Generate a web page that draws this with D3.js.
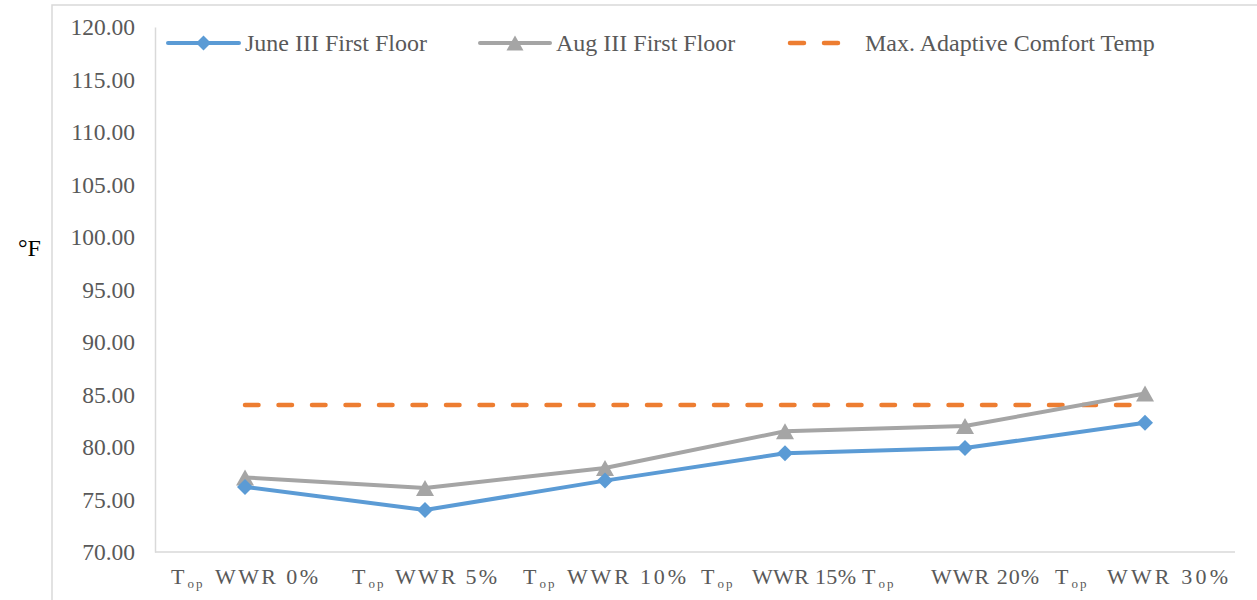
<!DOCTYPE html>
<html>
<head>
<meta charset="utf-8">
<script src="https://cdn.jsdelivr.net/npm/d3@7"></script>
<style>
  html, body { margin: 0; padding: 0; background: #fff; }
  svg { display: block; }
  svg text { font-family: "Liberation Serif", "Times New Roman", serif !important; }
</style>
</head>
<body>
<svg id="chart" width="1257" height="600" font-family="Liberation Serif, serif"></svg>
<script>
// Operative temperature by window-to-wall ratio
const categories = ["0%", "5%", "10%", "15%", "20%", "30%"];
const juneFirstFloor = [76.2, 74.0, 76.8, 79.4, 79.9, 82.3];
const augFirstFloor = [77.1, 76.1, 78.0, 81.5, 82.0, 85.1];
const maxComfort = [84.0, 84.0, 84.0, 84.0, 84.0, 84.0];
const yTicks = [70, 75, 80, 85, 90, 95, 100, 105, 110, 115, 120];

// label layout: offsets from the category centre for "T", "WWR" start and end
const tStart = [-74, -73, -82, -84, -103, -90];
const wwrStart = [-30, -30, -38, -33, -34, -38];
const wwrEnd = [73, 72, 81, 71, 74, 83];

const COL_JUNE = "#5B9BD5", COL_AUG = "#A5A5A5", COL_MAX = "#ED7D31";
const TEXT = "#595959", AXIS = "#D9D9D9";
const SERIF = '"Liberation Serif", "Times New Roman", serif';

const svg = d3.select("#chart");

// outer frame
svg.append("rect")
  .attr("x", 52).attr("y", 5).attr("width", 1300).attr("height", 700)
  .attr("fill", "none").attr("stroke", AXIS).attr("stroke-width", 1.5);

const plotLeft = 155, plotRight = 1235, plotTop = 27, plotBottom = 552;

const x = d3.scalePoint().domain(categories).range([plotLeft, plotRight]).padding(0.5);
const y = d3.scaleLinear().domain([70, 120]).range([plotBottom, plotTop]);

// y axis
const yAxis = svg.append("g").attr("transform", `translate(${plotLeft},0)`)
  .call(d3.axisLeft(y).tickValues(yTicks).tickFormat(d3.format(".2f")).tickSize(0).tickPadding(20));
yAxis.attr("font-family", SERIF).attr("font-size", 23.5);
yAxis.select(".domain").attr("stroke", AXIS).attr("stroke-width", 1.5);
yAxis.selectAll("text").attr("fill", TEXT);

// x axis line
svg.append("line")
  .attr("x1", plotLeft).attr("x2", plotRight).attr("y1", plotBottom).attr("y2", plotBottom)
  .attr("stroke", AXIS).attr("stroke-width", 1.5);

// x category labels: T_op WWR n%
const xl = svg.append("g").attr("fill", TEXT).attr("font-family", SERIF);
categories.forEach((c, i) => {
  const cx = x(c);
  const t = xl.append("text").attr("x", cx + tStart[i]).attr("y", 584).style("font-size", "22px");
  t.append("tspan").text("T");
  t.append("tspan").attr("dx", 3).attr("dy", 4).style("font-size", "13px")
    .attr("letter-spacing", 2).text("op");
  xl.append("text").attr("x", cx + wwrStart[i]).attr("y", 584).style("font-size", "22px")
    .attr("textLength", wwrEnd[i] - wwrStart[i]).attr("lengthAdjust", "spacing")
    .text("WWR " + c);
});

// y axis title
svg.append("text").attr("x", 18).attr("y", 248).attr("dy", "0.35em")
  .attr("fill", "#000").style("font-size", "24px").text("°F");

// marker shapes
const diamond = (s) => `M0,${-s}L${s},0L0,${s}L${-s},0Z`;
const triangle = (w, h) => `M0,${-h / 2}L${w / 2},${h / 2}L${-w / 2},${h / 2}Z`;

const line = d3.line().x((d, i) => x(categories[i])).y(d => y(d));

// max comfort (dashed)
svg.append("path").datum(maxComfort).attr("d", line)
  .attr("fill", "none").attr("stroke", COL_MAX).attr("stroke-width", 4.5)
  .attr("stroke-linecap", "round").attr("stroke-dasharray", "13.5,20");

// August
svg.append("path").datum(augFirstFloor).attr("d", line)
  .attr("fill", "none").attr("stroke", COL_AUG).attr("stroke-width", 4)
  .attr("stroke-linejoin", "round");
svg.append("g").selectAll("path").data(augFirstFloor).join("path")
  .attr("transform", (d, i) => `translate(${x(categories[i])},${y(d)})`)
  .attr("d", triangle(18, 16)).attr("fill", COL_AUG);

// June
svg.append("path").datum(juneFirstFloor).attr("d", line)
  .attr("fill", "none").attr("stroke", COL_JUNE).attr("stroke-width", 4)
  .attr("stroke-linejoin", "round");
svg.append("g").selectAll("path").data(juneFirstFloor).join("path")
  .attr("transform", (d, i) => `translate(${x(categories[i])},${y(d)})`)
  .attr("d", diamond(8)).attr("fill", COL_JUNE);

// legend
const ly = 43;
const lg = svg.append("g");
// June
lg.append("line").attr("x1", 168).attr("x2", 239).attr("y1", ly).attr("y2", ly)
  .attr("stroke", COL_JUNE).attr("stroke-width", 4).attr("stroke-linecap", "round");
lg.append("path").attr("transform", `translate(203.5,${ly})`).attr("d", diamond(7.5)).attr("fill", COL_JUNE);
lg.append("text").attr("x", 245).attr("y", ly).attr("dy", "0.33em").attr("fill", TEXT)
  .style("font-size", "24px").text("June III First Floor");
// Aug
lg.append("line").attr("x1", 480).attr("x2", 550).attr("y1", ly).attr("y2", ly)
  .attr("stroke", COL_AUG).attr("stroke-width", 4).attr("stroke-linecap", "round");
lg.append("path").attr("transform", `translate(515,${ly})`).attr("d", triangle(17, 15)).attr("fill", COL_AUG);
lg.append("text").attr("x", 556).attr("y", ly).attr("dy", "0.33em").attr("fill", TEXT)
  .style("font-size", "24px").text("Aug III First Floor");
// Max comfort
lg.append("line").attr("x1", 790).attr("x2", 840).attr("y1", ly).attr("y2", ly)
  .attr("stroke", COL_MAX).attr("stroke-width", 4.5).attr("stroke-linecap", "round")
  .attr("stroke-dasharray", "14,20");
lg.append("text").attr("x", 865).attr("y", ly).attr("dy", "0.33em").attr("fill", TEXT)
  .style("font-size", "24px").text("Max. Adaptive Comfort Temp");
</script>
</body>
</html>
